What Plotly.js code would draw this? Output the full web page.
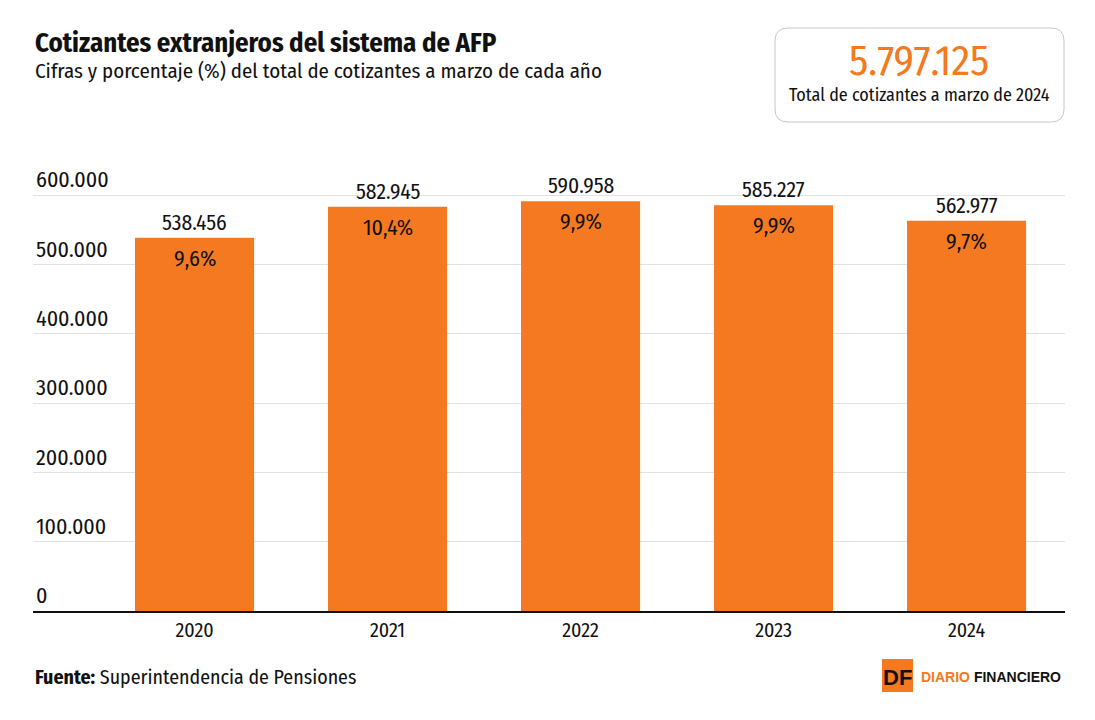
<!DOCTYPE html>
<html><head><meta charset="utf-8">
<script src="https://cdn.plot.ly/plotly-3.0.1.min.js"></script>
<style>body{margin:0;background:#fff}#c{width:1095px;height:720px}</style>
</head><body><div id="c"></div>
<script>
const years = ['2020','2021','2022','2023','2024'];
const cotizantes = [538456, 582945, 590958, 585227, 562977];
const porcentajes = ['9,6%','10,4%','9,9%','9,9%','9,7%'];
const yTicks = [0, 100000, 200000, 300000, 400000, 500000, 600000];
const totalCotizantes = '5.797.125';

const FONT = '"Fira Sans Condensed","Liberation Sans Narrow","DejaVu Sans Condensed",sans-serif';
const ORANGE = '#F47920';
const fmt = v => v.toLocaleString('de-DE');

const bars = {
  type: 'bar', x: years, y: cotizantes, width: 0.617,
  marker: {color: ORANGE}, hoverinfo: 'skip'
};

const W = 1095, H = 720, L = 33, R = 30, T = 160, B = 109;
const layout = {
  width: W, height: H,
  margin: {l: L, r: R, t: T, b: B},
  paper_bgcolor: '#fff', plot_bgcolor: '#fff',
  showlegend: false, separators: ',.',
  font: {family: FONT, color: '#111'},
  xaxis: {
    type: 'category', range: [-0.837, 4.51],
    showline: true, linecolor: '#111', linewidth: 2,
    tickfont: {family: FONT, size: 20, color: '#111'},
    ticks: '', fixedrange: true
  },
  yaxis: {
    range: [0, 650480], tickvals: yTicks,
    ticktext: yTicks.map(fmt),
    ticklabelposition: 'inside top',
    tickfont: {family: FONT, size: 22, color: '#111'},
    showgrid: true, gridcolor: '#e2e2e2', gridwidth: 1,
    zeroline: false, showline: false, ticks: '', fixedrange: true
  }
};

const pw = W - L - R, ph = H - T - B;
const px = x => (x - L) / pw;
const py = y => (H - B - y) / ph;

function roundRect(x0, y0, x1, y1, r) {
  return `M ${px(x0 + r)} ${py(y0)} L ${px(x1 - r)} ${py(y0)} Q ${px(x1)} ${py(y0)} ${px(x1)} ${py(y0 + r)} ` +
    `L ${px(x1)} ${py(y1 - r)} Q ${px(x1)} ${py(y1)} ${px(x1 - r)} ${py(y1)} ` +
    `L ${px(x0 + r)} ${py(y1)} Q ${px(x0)} ${py(y1)} ${px(x0)} ${py(y1 - r)} ` +
    `L ${px(x0)} ${py(y0 + r)} Q ${px(x0)} ${py(y0)} ${px(x0 + r)} ${py(y0)} Z`;
}

layout.shapes = [
  {type: 'path', xref: 'paper', yref: 'paper', path: roundRect(775, 28, 1064, 122, 13),
   line: {color: '#c8c8c8', width: 1}, fillcolor: 'rgba(0,0,0,0)'},
  {type: 'rect', xref: 'paper', yref: 'paper', x0: px(882), x1: px(913), y0: py(692), y1: py(659),
   fillcolor: ORANGE, line: {width: 0}}
];

const ann = (x, y, text, size, opts = {}) => Object.assign({
  xref: 'paper', yref: 'paper', x: px(x), y: py(y), text, showarrow: false,
  xanchor: 'left', yanchor: 'middle', font: {family: FONT, size, color: '#111'}
}, opts);

const valueAnns = years.map((yr, i) => ({
  xref: 'x', yref: 'y', x: i, y: cotizantes[i], text: fmt(cotizantes[i]),
  showarrow: false, yanchor: 'bottom', xanchor: 'center', yshift: 0,
  font: {family: FONT, size: 21.5, color: '#111'}
}));
const pctAnns = years.map((yr, i) => ({
  xref: 'x', yref: 'y', x: i, y: cotizantes[i], text: porcentajes[i],
  showarrow: false, yanchor: 'top', xanchor: 'center', yshift: -5,
  font: {family: FONT, size: 22, color: '#111'}
}));

layout.annotations = [
  ann(33, 43, '<b>Cotizantes extranjeros del sistema de AFP</b>', 26.7),
  ann(33, 71, 'Cifras y porcentaje (%) del total de cotizantes a marzo de cada año', 20.9),
  ann(919, 61, totalCotizantes, 42, {xanchor: 'center', font: {family: FONT, size: 42, color: ORANGE}}),
  ann(919, 95, 'Total de cotizantes a marzo de 2024', 18, {xanchor: 'center'}),
  ann(33, 677, '<b>Fuente:</b> Superintendencia de Pensiones', 19.9),
  ann(897.5, 677, '<b>DF</b>', 22, {xanchor: 'center', font: {family: 'Liberation Sans, Arial, sans-serif', size: 22, color: '#111'}}),
  ann(919, 677, '<b><span style="color:' + ORANGE + '">DIARIO</span> FINANCIERO</b>', 14,
      {font: {family: 'Liberation Sans Narrow, Liberation Sans, sans-serif', size: 14, color: '#111'}})
].concat(valueAnns, pctAnns);

Plotly.newPlot('c', [bars], layout, {staticPlot: true, displayModeBar: false});
</script></body></html>
